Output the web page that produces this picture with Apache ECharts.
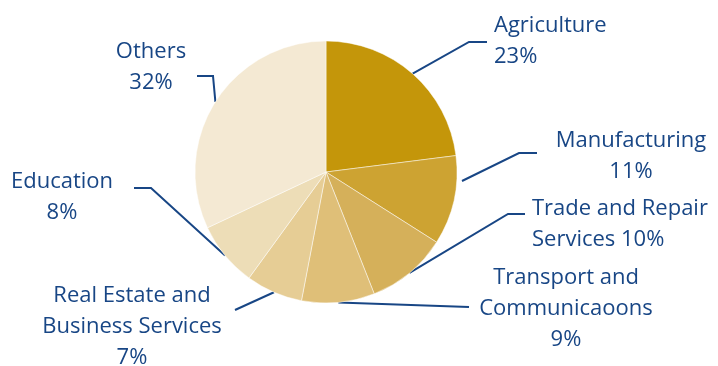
<!DOCTYPE html>
<html>
<head>
<meta charset="utf-8">
<script src="https://cdn.jsdelivr.net/npm/echarts@6/dist/echarts.min.js"></script>
<style>
  html, body { margin: 0; padding: 0; background: #fff; }
  #chart { width: 718px; height: 366px; }
</style>
</head>
<body>
<div id="chart"></div>
<script>
// Sector shares, clockwise from 12 o'clock
const sectors = [
  'Agriculture',
  'Manufacturing',
  'Trade and Repair Services',
  'Transport and Communicaoons',
  'Real Estate and Business Services',
  'Education',
  'Others'
];
const shares = [23, 11, 10, 9, 7, 8, 32];
// Label text lines, one entry per sector
const labelLines = [
  ['Agriculture', '23%'],
  ['Manufacturing', '11%'],
  ['Trade and Repair', 'Services 10%'],
  ['Transport and', 'Communicaoons', '9%'],
  ['Real Estate and', 'Business Services', '7%'],
  ['Education', '8%'],
  ['Others', '32%']
];
const sliceColors = ['#C4960A', '#CDA332', '#D5B05A', '#DFBF78', '#E6CD95', '#EDDDB7', '#F4E9D3'];

// Where each label block sits and how its leader line bends
// (start overrides the default anchor on the slice edge when given)
const labelPlacement = [
  { x: 494, y: 41,  align: 'left',   bend: [[469, 42], [487, 42]] },
  { x: 631, y: 156, align: 'center', start: [462, 181], bend: [[519, 153], [537, 153]] },
  { x: 532, y: 224, align: 'left',   bend: [[508, 214], [525, 214]] },
  { x: 566, y: 309, align: 'center', bend: [[469, 307]] },
  { x: 132, y: 327, align: 'center', bend: [[235, 310]] },
  { x: 62,  y: 197, align: 'center', bend: [[151, 188], [134, 188]] },
  { x: 151, y: 67,  align: 'center', bend: [[213, 76], [197, 76]] }
];

const chart = echarts.init(document.getElementById('chart'), null, { renderer: 'canvas' });

chart.setOption({
  animation: false,
  series: [{
    type: 'pie',
    center: [326, 172],
    radius: 131,
    startAngle: 90,
    clockwise: true,
    avoidLabelOverlap: false,
    data: sectors.map((name, i) => ({
      name,
      value: shares[i],
      itemStyle: { color: sliceColors[i] }
    })),
    itemStyle: { borderColor: 'rgba(255,255,255,0.6)', borderWidth: 0.8 },
    emphasis: { disabled: true },
    label: {
      show: true,
      formatter: (p) => labelLines[p.dataIndex].join('\n'),
      fontFamily: 'Open Sans',
      fontSize: 22,
      lineHeight: 31,
      color: '#184685'
    },
    labelLine: {
      show: true,
      length: 20,
      length2: 20,
      lineStyle: { color: '#184685', width: 2 }
    },
    labelLayout: (params) => {
      const pl = labelPlacement[params.dataIndex];
      const start = pl.start || (params.labelLinePoints ? params.labelLinePoints[0] : null);
      return {
        x: pl.x,
        y: pl.y,
        align: pl.align,
        verticalAlign: 'middle',
        labelLinePoints: start ? [start].concat(pl.bend) : undefined
      };
    }
  }]
});
</script>
</body>
</html>
